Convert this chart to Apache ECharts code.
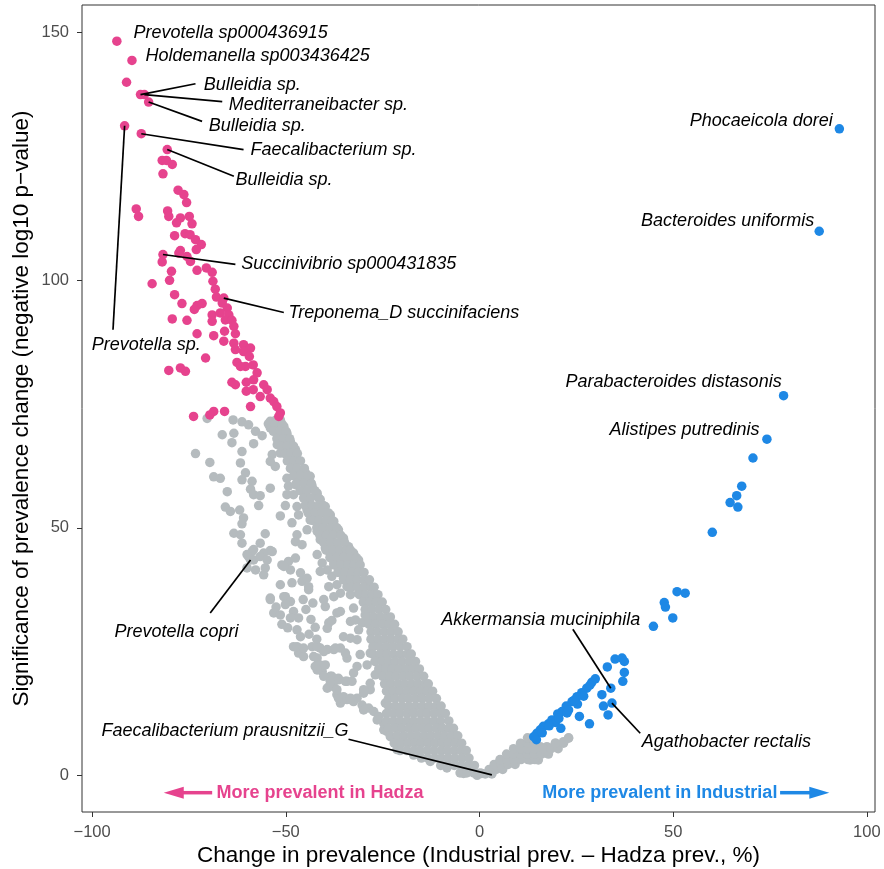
<!DOCTYPE html>
<html><head><meta charset="utf-8">
<script src="https://cdn.jsdelivr.net/npm/echarts@6/dist/echarts.min.js"></script>
<style>html,body{margin:0;padding:0;background:#fff}#c{width:884px;height:869px}</style>
</head><body><div id="c"></div>
<script>
const xTicks = [-100, -50, 0, 50, 100];
const yTicks = [0, 50, 100, 150];

const hadzaPoints = [
[-93.6,148.3],[-89.7,144.4],[-91.1,140.0],[-87.5,137.5],[-86.5,137.5],[-85.4,136.0],[-91.6,131.2],[-87.3,129.6],[-80.6,126.4],[-81.9,124.2],[-80.8,124.2],[-79.3,123.4],[-81.7,121.5],[-77.8,118.2],[-76.3,117.3],[-75.6,115.7],[-88.6,114.4],[-80.5,114.0],[-88.0,112.9],[-77.2,112.6],[-74.9,112.9],
[-80.2,112.9],[-78.2,111.6],[-74.2,111.4],[-78.7,109.0],[-76.0,109.4],[-74.7,109.2],[-73.3,108.2],[-71.8,107.2],[-73.1,106.2],[-77.2,106.0],[-77.6,105.5],[-81.7,105.2],[-81.9,103.7],[-75.5,104.8],[-74.6,103.8],[-79.5,101.8],[-72.9,102.0],[-70.5,102.5],[-69.0,101.6],[-80.0,100.0],[-84.5,99.3],[-68.8,99.8],[-68.2,98.2],[-78.7,97.1],[-67.9,96.6],[-66.0,96.4],[-76.8,95.3],[-72.9,94.9],[-71.6,95.3],[-73.6,94.1],[-66.4,95.4],[-65.1,94.4],[-69.0,93.0],[-66.9,93.4],[-64.7,93.0],[-79.3,92.2],[-75.5,91.9],[-69.0,91.7],[-65.6,92.0],[-63.9,91.9],[-63.4,90.7],[-72.9,89.2],[-68.6,88.8],[-65.8,89.7],[-63.0,89.2],[-66.0,87.7],[-63.4,87.3],[-60.9,87.0],[-59.1,86.3],[-60.9,85.6],[-63.0,86.0],[-70.7,84.3],[-59.4,84.6],[-62.6,83.4],[-60.4,82.6],[-58.4,82.9],[-80.2,81.8],[-77.2,82.3],[-75.9,81.6],[-61.7,82.6],[-57.4,81.3],[-58.3,79.9],[-60.2,79.4],[-63.9,79.4],[-63.0,78.9],[-55.7,78.9],[-54.8,77.9],[-60.2,77.6],[-58.4,77.9],[-56.6,76.5],[-54.0,76.2],[-53.1,75.5],[-52.3,74.5],[-59.1,74.5],[-51.4,73.2],[-51.8,72.5],[-73.8,72.5],[-68.6,73.5],[-65.8,73.5],[-69.6,72.8]
];

const industrialPoints = [
[92.9,130.6],[87.7,109.9],[78.5,76.7],[74.2,67.9],[70.6,64.1],[67.7,58.4],[66.4,56.5],[64.7,55.1],[66.7,54.2],[60.1,49.1],
[51.0,37.1],[53.1,36.8],[47.7,34.9],[48.0,34.0],[49.9,31.8],[44.9,30.1],
[35.0,23.5],[36.8,23.7],[37.4,23.0],[33.0,21.9],[37.4,20.8],[37.0,19.0],[29.9,19.5],[29.0,18.8],[33.9,17.6],[27.7,17.6],[26.4,16.7],[25.2,15.9],[31.6,16.3],[23.9,14.9],[22.4,14.0],[25.3,14.4],[32.0,14.0],[34.2,14.6],[21.3,12.9],[20.2,12.4],[22.6,12.6],[25.8,11.9],[33.2,12.2],[18.7,11.2],[19.6,10.7],[17.8,10.4],[21.0,9.5],[28.4,10.4],[16.5,9.9],[15.7,9.2],[14.8,8.5],[14.0,7.8],[14.7,7.2],
[23.0,13.2],[24.5,15.2],[26.9,16.0],[28.5,18.2],[18.0,10.0],[16.2,8.6],[20.5,11.5]
];

const greyScattered = [
[-70.3,72.1],[-63.6,71.8],[-61.3,71.4],[-59.6,70.8],[-54.0,71.5],[-52.5,71.8],
[-66.4,68.8],[-63.4,69.1],[-63.9,67.2],[-57.8,69.5],[-56.1,68.6],[-58.3,67.0],[-54.0,70.2],[-52.7,71.2],[-51.4,71.8],[-50.5,70.5],[-49.7,69.1],[-48.8,67.4],[-47.5,65.8],[-52.2,66.8],[-50.5,66.4],[-51.4,65.1],[-73.3,65.0],[-61.3,65.4],[-53.5,64.8],[-54.0,63.4],[-52.7,62.4],[-69.6,63.2],[-61.7,63.1],
[-46.2,61.4],[-44.9,61.1],[-46.7,59.7],[-44.5,59.4],[-43.7,60.4],[-68.6,60.3],[-66.9,60.0],
[-60.4,61.1],[-61.3,59.7],[-58.7,59.4],[-59.1,57.8],[-58.3,56.7],[-56.6,56.5],[-57.0,54.5],[-54.0,58.0],
[-49.7,60.0],[-49.3,58.4],[-47.5,58.7],[-49.7,56.7],[-48.0,56.7],
[-43.2,58.4],[-41.9,57.0],[-41.1,55.7],[-39.8,54.3],[-38.5,52.6],[-37.6,51.3],[-36.4,49.6],[-35.1,47.9],[-33.8,46.2],[-32.5,44.9],[-31.2,43.5],
[-44.9,57.3],[-44.1,55.7],[-44.5,53.6],[-43.2,54.3],[-42.4,52.6],[-43.7,51.6],[-41.5,51.0],[-40.2,49.9],[-41.9,49.3],[-39.3,48.3],[-41.1,47.6],[-38.1,46.9],[-39.8,45.9],[-36.8,45.6],[-38.5,44.6],[-35.9,44.2],[-41.9,44.6],[-40.6,42.9],[-37.6,42.9],[-35.1,42.5],[-39.3,41.5],[-36.4,41.2],[-33.8,41.5],[-41.1,41.2],[-38.1,40.2],[-35.1,39.8],[-32.9,40.2],[-36.8,38.5],[-34.2,38.1],[-32.0,38.5],[-38.9,38.1],[-35.9,36.8],[-33.3,36.5],[-31.2,36.8],[-37.6,36.1],
[-65.1,57.3],[-65.6,54.2],[-64.3,53.3],[-61.9,53.6],[-60.9,52.0],[-61.3,50.8],
[-50.1,54.5],[-51.4,52.4],[-47.1,54.3],[-46.7,52.6],[-48.4,51.0],
[-44.5,49.6],[-47.1,48.6],[-47.5,47.2],[-45.8,46.6],
[-63.4,48.9],[-61.7,48.6],[-61.3,46.9],
[-55.3,48.8],[-56.6,46.9],[-54.0,45.4],[-55.7,44.9],
[-58.7,45.2],[-59.6,44.2],[-58.3,43.5],[-60.0,41.9],[-57.8,41.5],[-55.3,41.9],[-55.7,40.5],[-59.1,43.5],
[-51.0,42.5],[-49.3,43.2],[-47.5,43.9],[-48.8,41.5],[-46.2,40.9],[-45.8,39.2],[-48.4,38.9],[-51.4,38.5],[-50.1,36.1],[-54.0,35.8],[-44.1,37.5],[-44.5,39.8],
[-60.0,44.6],[-58.3,45.6],[-56.6,44.2],[-54.8,43.5],[-53.5,45.2],[-50.5,42.2],[-44.1,38.1],
[-54.0,35.5],[-50.5,36.1],[-48.8,35.1],[-50.1,34.5],
[-53.1,32.8],[-51.4,32.4],[-48.0,33.1],[-46.7,31.8],[-48.8,31.8],
[-39.8,34.1],[-42.4,29.9],[-38.9,30.8],[-38.1,31.3],[-39.3,29.7],[-40.2,35.5],[-36.8,32.8],
[-35.9,33.1],[-32.5,33.8],[-33.3,31.1],[-32.0,31.4],[-29.5,32.4],[-30.3,30.8],[-31.2,29.4],
[-47.1,29.4],[-46.2,28.0],[-48.0,26.0],[-46.7,24.7],[-45.4,24.0],
[-43.2,26.0],[-41.1,25.7],[-39.3,25.4],[-37.6,25.4],[-35.9,25.7],[-34.2,23.7],
[-35.1,28.0],[-33.3,27.7],[-31.6,27.4],
[-41.9,23.7],[-42.4,22.0],[-40.6,21.0],[-41.1,22.3],
[-38.5,20.0],[-36.4,19.6],[-34.2,19.0],[-38.9,17.9],[-32.5,20.7],[-31.6,22.0],
[-36.8,16.3],[-35.1,15.9],[-33.3,15.3],[-31.6,15.6],[-29.9,16.6],[-28.2,17.3],[-35.9,14.6],
[-40.2,25.0],[-37.2,25.7],[-34.6,24.7],[-39.8,22.3],
[-38.1,20.0],[-36.4,19.3],[-34.6,19.0],[-32.9,19.0],[-39.3,17.6],[-37.6,17.9],
[-36.4,15.6],[-34.2,15.3],[-32.5,14.9],
[-30.3,14.2],[-28.6,13.6],[-27.3,12.9],[-26.0,11.9],[-24.7,10.5],[-23.9,8.9],[-23.0,7.8],
[-29.9,17.3],[-28.2,18.6],[-26.9,20.3],[-29.0,22.3],[-30.8,24.4],[-28.2,24.7],[-25.6,23.3],[-24.3,25.4],[-26.4,26.7],[-23.0,22.0],[-23.9,19.3],[-22.6,16.6],[-24.3,14.6],
[-21.3,5.2],[-17.0,4.1],[-12.7,2.8],[-8.4,1.5],[-4.1,0.4],[-0.6,0.0],
[-47.1,26.0],[-45.4,25.7],[-42.8,24.0],[-41.9,26.0],[-41.9,21.3],[-40.2,20.0],[-38.5,19.0],[-36.8,17.3],[-33.3,15.6],[-29.9,13.2],[-26.4,11.2],[-24.7,9.2],
[-52.5,34.0],[-51.0,30.5],[-49.5,29.8],[-44.8,33.5],[-43.5,31.5],[-44.0,28.5],[-42.0,27.5],[-45.5,35.5],[-43.0,34.8],
[14.0,6.8],[15.7,5.8],[17.4,5.8],[19.6,6.5],[21.7,6.8],[23.0,7.5],[12.7,4.8],[13.1,3.1],[15.2,3.1],[17.4,4.5],[10.1,4.5],[7.1,2.5],[3.6,1.1],[0.6,0.4]
];

// dense part of the grey cloud, read row by row: [y, [x values]]
const greyBandRows = [
[71.0,[-54.5,-52.8,-51.0]],
[69.5,[-53.2,-51.5,-49.9]],
[68.0,[-52.3,-50.6,-49.0]],
[66.5,[-51.2,-49.6,-48.0]],
[65.0,[-50.2,-48.6,-47.0]],
[63.5,[-49.6,-47.9,-46.2]],
[62.0,[-48.8,-47.1,-45.2]],
[60.5,[-48.0,-46.2,-44.3]],
[59.0,[-47.2,-45.4,-43.4]],
[57.5,[-46.3,-44.5,-42.5]],
[56.0,[-45.4,-43.6,-41.5]],
[54.5,[-45.0,-43.2,-41.5,-40.3]],
[53.0,[-44.2,-42.4,-40.6,-39.0]],
[51.5,[-43.1,-41.4,-39.6,-38.0]],
[50.0,[-42.0,-40.3,-38.5,-36.8]],
[48.5,[-41.2,-39.5,-37.7,-35.8]],
[47.0,[-40.2,-38.4,-36.6,-34.8]],
[45.5,[-39.6,-37.8,-36.0,-34.3,-33.3]],
[44.0,[-38.6,-36.8,-35.0,-33.3,-31.8]],
[42.5,[-37.6,-35.8,-34.0,-32.3,-30.8]],
[41.0,[-36.5,-34.7,-32.9,-31.2,-29.8]],
[39.5,[-35.0,-33.3,-31.5,-29.8,-28.4]],
[38.0,[-33.2,-31.5,-29.7,-28.0,-27.2]],
[36.5,[-31.0,-29.3,-27.6,-26.2]],
[35.0,[-30.0,-28.3,-26.6,-25.1]],
[33.5,[-29.5,-27.8,-26.0,-24.2]],
[32.0,[-29.0,-27.3,-25.5,-23.8,-23.0]],
[30.5,[-28.5,-26.8,-25.0,-23.3,-21.9]],
[29.0,[-28.0,-26.3,-24.5,-22.8,-21.0]],
[27.5,[-28.0,-26.2,-24.5,-22.8,-21.1,-19.8]],
[26.0,[-27.5,-25.8,-24.0,-22.3,-20.5,-18.7]],
[24.5,[-27.5,-25.7,-23.9,-22.2,-20.4,-18.6,-17.6]],
[23.0,[-27.0,-25.2,-23.5,-21.7,-20.0,-18.2,-16.5]],
[21.5,[-26.0,-24.2,-22.5,-20.7,-19.0,-17.2,-15.5]],
[20.0,[-25.0,-23.2,-21.5,-19.7,-18.0,-16.2,-14.4]],
[18.5,[-24.5,-22.8,-21.0,-19.3,-17.5,-15.8,-14.0,-13.2]],
[17.0,[-24.0,-22.2,-20.5,-18.7,-17.0,-15.2,-13.5,-12.1]],
[15.5,[-23.5,-21.8,-20.0,-18.3,-16.5,-14.8,-13.0,-11.1]],
[14.0,[-23.5,-21.7,-20.0,-18.2,-16.5,-14.7,-13.0,-11.2,-9.9]],
[12.5,[-24.0,-22.2,-20.5,-18.7,-17.0,-15.2,-13.5,-11.7,-10.0,-8.8]],
[11.0,[-24.0,-22.2,-20.5,-18.7,-17.0,-15.2,-13.5,-11.7,-10.0,-7.9]],
[9.5,[-23.5,-21.7,-20.0,-18.2,-16.5,-14.7,-13.0,-11.2,-9.5,-7.8,-6.7]],
[8.0,[-23.0,-21.2,-19.5,-17.7,-16.0,-14.2,-12.5,-10.7,-9.0,-7.2,-5.6]],
[6.5,[-22.0,-20.2,-18.5,-16.7,-15.0,-13.2,-11.5,-9.7,-8.0,-6.2,-4.6]],
[5.0,[-20.5,-18.8,-17.0,-15.3,-13.5,-11.8,-10.0,-8.3,-6.5,-4.8,-3.4]],
[3.5,[-15.0,-13.3,-11.5,-9.8,-8.0,-6.3,-4.5,-2.7]],
[2.0,[-10.0,-8.3,-6.5,-4.8,-3.0,-1.3]],
[0.5,[-5.0,-3.3,-1.5,0.2]],
[0.3,[1.5,3.2]],
[1.2,[2.5,4.3,6.0]],
[2.2,[3.8,5.6,7.4,9.2]],
[3.2,[5.3,7.1,8.9,10.7,12.5,14.3]],
[4.3,[7.0,8.8,10.6,12.4,14.2,16.0,17.8]],
[5.4,[8.8,10.6,12.4,14.2,16.5,18.5,20.3]],
[6.5,[10.6,12.4,14.2,19.6,21.7]],
[7.6,[12.4,14.0,23.0]]
];

const labelNames = ['Prevotella sp000436915','Holdemanella sp003436425','Bulleidia sp.','Mediterraneibacter sp.','Bulleidia sp.','Faecalibacterium sp.','Bulleidia sp.','Succinivibrio sp000431835','Treponema_D succinifaciens','Prevotella sp.','Prevotella copri','Faecalibacterium prausnitzii_G','Akkermansia muciniphila','Agathobacter rectalis','Phocaeicola dorei','Bacteroides uniformis','Parabacteroides distasonis','Alistipes putredinis'];
const hadzaArrowText = 'More prevalent in Hadza';
const industrialArrowText = 'More prevalent in Industrial';

// label layout (data coordinates): text anchor, alignment, optional leader segment
const labelLayout = [
 {at:[-89.3,150.0], align:'left'},
 {at:[-86.2,145.2], align:'left'},
 {at:[-71.2,139.5], align:'left', from:[-87.5,137.5], to:[-73.3,139.7]},
 {at:[-64.7,135.5], align:'left', from:[-86.5,137.5], to:[-66.4,136.1]},
 {at:[-69.9,131.2], align:'left', from:[-85.4,136.0], to:[-71.6,132.1]},
 {at:[-59.1,126.4], align:'left', from:[-87.3,129.6], to:[-60.9,126.4]},
 {at:[-63.0,120.3], align:'left', from:[-80.6,126.4], to:[-63.4,121.0]},
 {at:[-61.5,103.2], align:'left', from:[-81.7,105.2], to:[-63.0,103.2]},
 {at:[-49.3,93.4], align:'left', from:[-66.0,96.4], to:[-50.5,93.5]},
 {at:[-86.0,87.0], align:'center', from:[-91.6,131.2], to:[-94.6,90.0]},
 {at:[-78.2,29.0], align:'center', from:[-59.1,43.5], to:[-69.5,32.8]},
 {at:[-33.8,8.9], align:'right', from:[3.2,0.1], to:[-33.8,7.3]},
 {at:[15.8,31.4], align:'center', from:[33.9,17.6], to:[24.1,29.5]},
 {at:[41.9,6.8], align:'left', from:[34.2,14.6], to:[41.5,8.5]},
 {at:[91.2,132.1], align:'right'},
 {at:[86.4,111.9], align:'right'},
 {at:[78.0,79.4], align:'right'},
 {at:[72.3,69.8], align:'right'}
];

const PINK = '#E6438E', BLUE = '#1E88E5', GREY = '#B5BBBE';
const FONT = '"Liberation Sans", Arial, Helvetica, sans-serif';

const greyPoints = greyScattered.concat(greyBandRows.flatMap(r => r[1].map(x => [x, r[0]])));

const labelData = labelNames.map((n, i) => ({
  value: labelLayout[i].at, name: n,
  label: {align: labelLayout[i].align}
}));
const segData = labelLayout.filter(l => l.from).map(l => ({coords: [l.from, l.to]}));

function arrowSeries(color, tail, tip) {
  return {
    type: 'custom', coordinateSystem: 'cartesian2d', silent: true, z: 6,
    data: [[tail[0], tail[1], tip[0], tip[1]]],
    encode: {x: [0, 2], y: [1, 3]},
    renderItem: function (params, api) {
      const a = api.coord([api.value(0), api.value(1)]);
      const b = api.coord([api.value(2), api.value(3)]);
      const dx = b[0] - a[0], dy = b[1] - a[1];
      const L = Math.hypot(dx, dy), ux = dx / L, uy = dy / L;
      const hl = 20, hw = 6;
      const base = [b[0] - ux * hl, b[1] - uy * hl];
      return {type: 'group', children: [
        {type: 'line', shape: {x1: a[0], y1: a[1], x2: base[0] + ux * 2, y2: base[1] + uy * 2}, style: {stroke: color, lineWidth: 3.5}},
        {type: 'polygon', shape: {points: [[b[0], b[1]], [base[0] - uy * hw, base[1] + ux * hw], [base[0] + uy * hw, base[1] - ux * hw]]}, style: {fill: color}}
      ]};
    }
  };
}

const chart = echarts.init(document.getElementById('c'), null, {renderer: 'canvas'});
chart.setOption({
  animation: false,
  backgroundColor: '#ffffff',
  grid: {left: 82, right: 9, top: 5, bottom: 57, show: true, borderColor: '#333333', borderWidth: 1,
    backgroundColor: 'transparent', containLabel: false, outerBoundsMode: 'none'},
  xAxis: {
    type: 'value', min: -102.6, max: 102.1,
    splitLine: {show: false},
    axisLine: {show: false, onZero: false},
    axisTick: {show: true, length: 5, lineStyle: {color: '#333333', width: 1}, customValues: xTicks},
    axisLabel: {customValues: xTicks, color: '#4D4D4D', fontSize: 16.5, margin: 12, fontFamily: FONT,
      formatter: v => v < 0 ? '\u2212' + Math.abs(v) : String(v)},
    name: 'Change in prevalence (Industrial prev. \u2013 Hadza prev., %)',
    nameLocation: 'middle', nameGap: 32, nameMoveOverlap: false,
    nameTextStyle: {fontSize: 22.5, color: '#000', fontFamily: FONT}
  },
  yAxis: {
    type: 'value', min: -7.4, max: 155.6,
    splitLine: {show: false},
    axisLine: {show: false, onZero: false},
    axisTick: {show: true, length: 5, lineStyle: {color: '#333333', width: 1}, customValues: yTicks},
    axisLabel: {customValues: yTicks, color: '#4D4D4D', fontSize: 16.5, margin: 13, fontFamily: FONT},
    name: 'Significance of prevalence change (negative log10 p\u2212value)',
    nameLocation: 'middle', nameGap: 49, nameMoveOverlap: false,
    nameTextStyle: {fontSize: 22.5, color: '#000', fontFamily: FONT}
  },
  series: [
    {type: 'scatter', data: greyPoints, symbolSize: 9.5, itemStyle: {color: GREY, opacity: 1}, z: 2, silent: true},
    {type: 'scatter', data: hadzaPoints, symbolSize: 9.5, itemStyle: {color: PINK, opacity: 1}, z: 3, silent: true},
    {type: 'scatter', data: industrialPoints, symbolSize: 9.5, itemStyle: {color: BLUE, opacity: 1}, z: 3, silent: true},
    {type: 'lines', coordinateSystem: 'cartesian2d', data: segData, symbol: 'none',
      lineStyle: {color: '#000', width: 1.7, opacity: 1, curveness: 0}, z: 4, silent: true},
    {type: 'scatter', data: labelData, symbolSize: 0, z: 5, silent: true,
      label: {show: true, position: [0, 0], verticalAlign: 'middle', formatter: p => p.name,
        fontSize: 18, fontStyle: 'italic', color: '#000000', opacity: 1,
        textBorderWidth: 0, textShadowBlur: 0, fontFamily: FONT}},
    {type: 'scatter', symbolSize: 0, z: 5, silent: true,
      data: [{value: [-67.9, -3.5], name: hadzaArrowText, label: {align: 'left', color: PINK}},
             {value: [76.9, -3.5], name: industrialArrowText, label: {align: 'right', color: BLUE}}],
      label: {show: true, position: [0, 0], verticalAlign: 'middle', formatter: p => p.name,
        fontSize: 18, fontWeight: 'bold', opacity: 1, textBorderWidth: 0, textShadowBlur: 0, fontFamily: FONT}},
    arrowSeries(PINK, [-69.0, -3.5], [-81.5, -3.5]),
    arrowSeries(BLUE, [77.6, -3.5], [90.3, -3.5])
  ]
});
</script></body></html>
